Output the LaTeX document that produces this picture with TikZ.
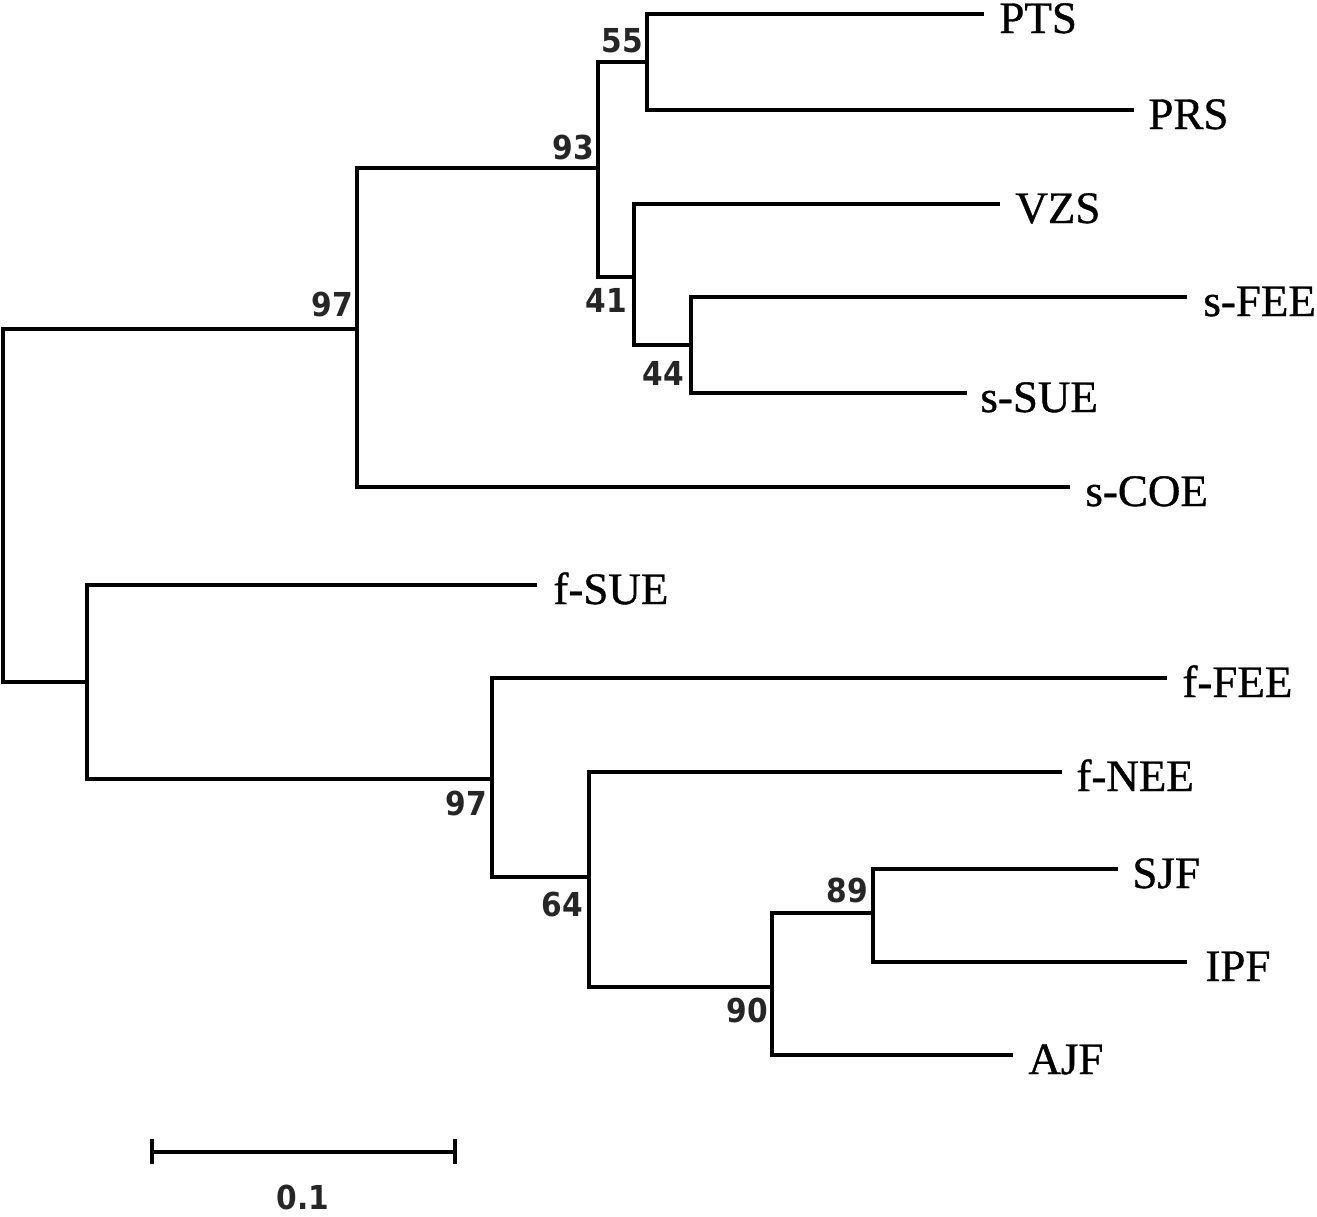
\documentclass[tikz,border=0pt]{standalone}
\usepackage{fontspec}
\setmainfont{Liberation Serif}
\newfontfamily\leaffont{Liberation Serif}[FakeBold=0.8]
\newfontfamily\bsfont{DejaVu Sans Condensed}
\begin{document}
\begin{tikzpicture}[x=0.5pt,y=-0.5pt,
  tree/.style={line width=2.3pt,line join=miter,black},
  leaf/.style={anchor=base west,inner sep=0pt,font=\leaffont\fontsize{22.5pt}{27pt}\selectfont},
  boot/.style={anchor=center,inner sep=0pt,font=\bsfont\bfseries\fontsize{16.5pt}{20pt}\selectfont,text=black!85}]
\useasboundingbox (0,0) rectangle (1317,1216);
% internal nodes
\coordinate (root) at (3,505);
\coordinate (n97a) at (357,329);
\coordinate (n93) at (598,168);
\coordinate (n55) at (647,62);
\coordinate (n41) at (634,277);
\coordinate (n44) at (691,345);
\coordinate (nB) at (87,682);
\coordinate (n97b) at (492,779);
\coordinate (n64) at (589,877);
\coordinate (n90) at (772,987);
\coordinate (n89) at (873,913);
% tips
\coordinate (tPTS) at (984,14);
\coordinate (tPRS) at (1134,110);
\coordinate (tVZS) at (1000,204);
\coordinate (tsFEE) at (1187,297);
\coordinate (tsSUE) at (967,393);
\coordinate (tsCOE) at (1070,487);
\coordinate (tfSUE) at (537,585);
\coordinate (tfFEE) at (1167,678);
\coordinate (tfNEE) at (1062,772);
\coordinate (tSJF) at (1118,869);
\coordinate (tIPF) at (1187,962);
\coordinate (tAJF) at (1013,1055);
% branches
\draw[tree] (root) |- (n97a);
\draw[tree] (root) |- (nB);
\draw[tree] (n97a) |- (n93);
\draw[tree] (n97a) |- (tsCOE);
\draw[tree] (n93) |- (n55);
\draw[tree] (n93) |- (n41);
\draw[tree] (n55) |- (tPTS);
\draw[tree] (n55) |- (tPRS);
\draw[tree] (n41) |- (tVZS);
\draw[tree] (n41) |- (n44);
\draw[tree] (n44) |- (tsFEE);
\draw[tree] (n44) |- (tsSUE);
\draw[tree] (nB) |- (tfSUE);
\draw[tree] (nB) |- (n97b);
\draw[tree] (n97b) |- (tfFEE);
\draw[tree] (n97b) |- (n64);
\draw[tree] (n64) |- (tfNEE);
\draw[tree] (n64) |- (n90);
\draw[tree] (n90) |- (n89);
\draw[tree] (n90) |- (tAJF);
\draw[tree] (n89) |- (tSJF);
\draw[tree] (n89) |- (tIPF);
% leaf labels
\node[leaf] (PTS) at (999,33) {PTS};
\node[leaf] (PRS) at (1148,129) {PRS};
\node[leaf] (VZS) at (1015,223) {VZS};
\node[leaf] (sFEE) at (1203,316) {s-FEE};
\node[leaf] (sSUE) at (980,412) {s-SUE};
\node[leaf] (sCOE) at (1085,506) {s-COE};
\node[leaf] (fSUE) at (553,604) {f-SUE};
\node[leaf] (fFEE) at (1182,697) {f-FEE};
\node[leaf] (fNEE) at (1076,791) {f-NEE};
\node[leaf] (SJF) at (1132,888) {SJF};
\node[leaf] (IPF) at (1205,981) {IPF};
\node[leaf] (AJF) at (1028,1074) {AJF};
% bootstrap values
\node[boot] (b55) at (622,41) {55};
\node[boot] (b93) at (573,147) {93};
\node[boot] (b41) at (606,300) {41};
\node[boot] (b44) at (663,373) {44};
\node[boot] (b97a) at (332,304) {97};
\node[boot] (b97b) at (466,803) {97};
\node[boot] (b64) at (562,904) {64};
\node[boot] (b89) at (847,890) {89};
\node[boot] (b90) at (747,1010) {90};
% scale bar
\coordinate (sbL) at (152,1152);
\coordinate (sbR) at (455,1152);
\coordinate (sbLt) at (152,1139);
\coordinate (sbLb) at (152,1164);
\coordinate (sbRt) at (455,1139);
\coordinate (sbRb) at (455,1164);
\draw[tree] (sbL) -- (sbR);
\draw[tree] (sbLt) -- (sbLb);
\draw[tree] (sbRt) -- (sbRb);
\node[boot] (scale) at (303,1197) {0.1};
\end{tikzpicture}
\end{document}
